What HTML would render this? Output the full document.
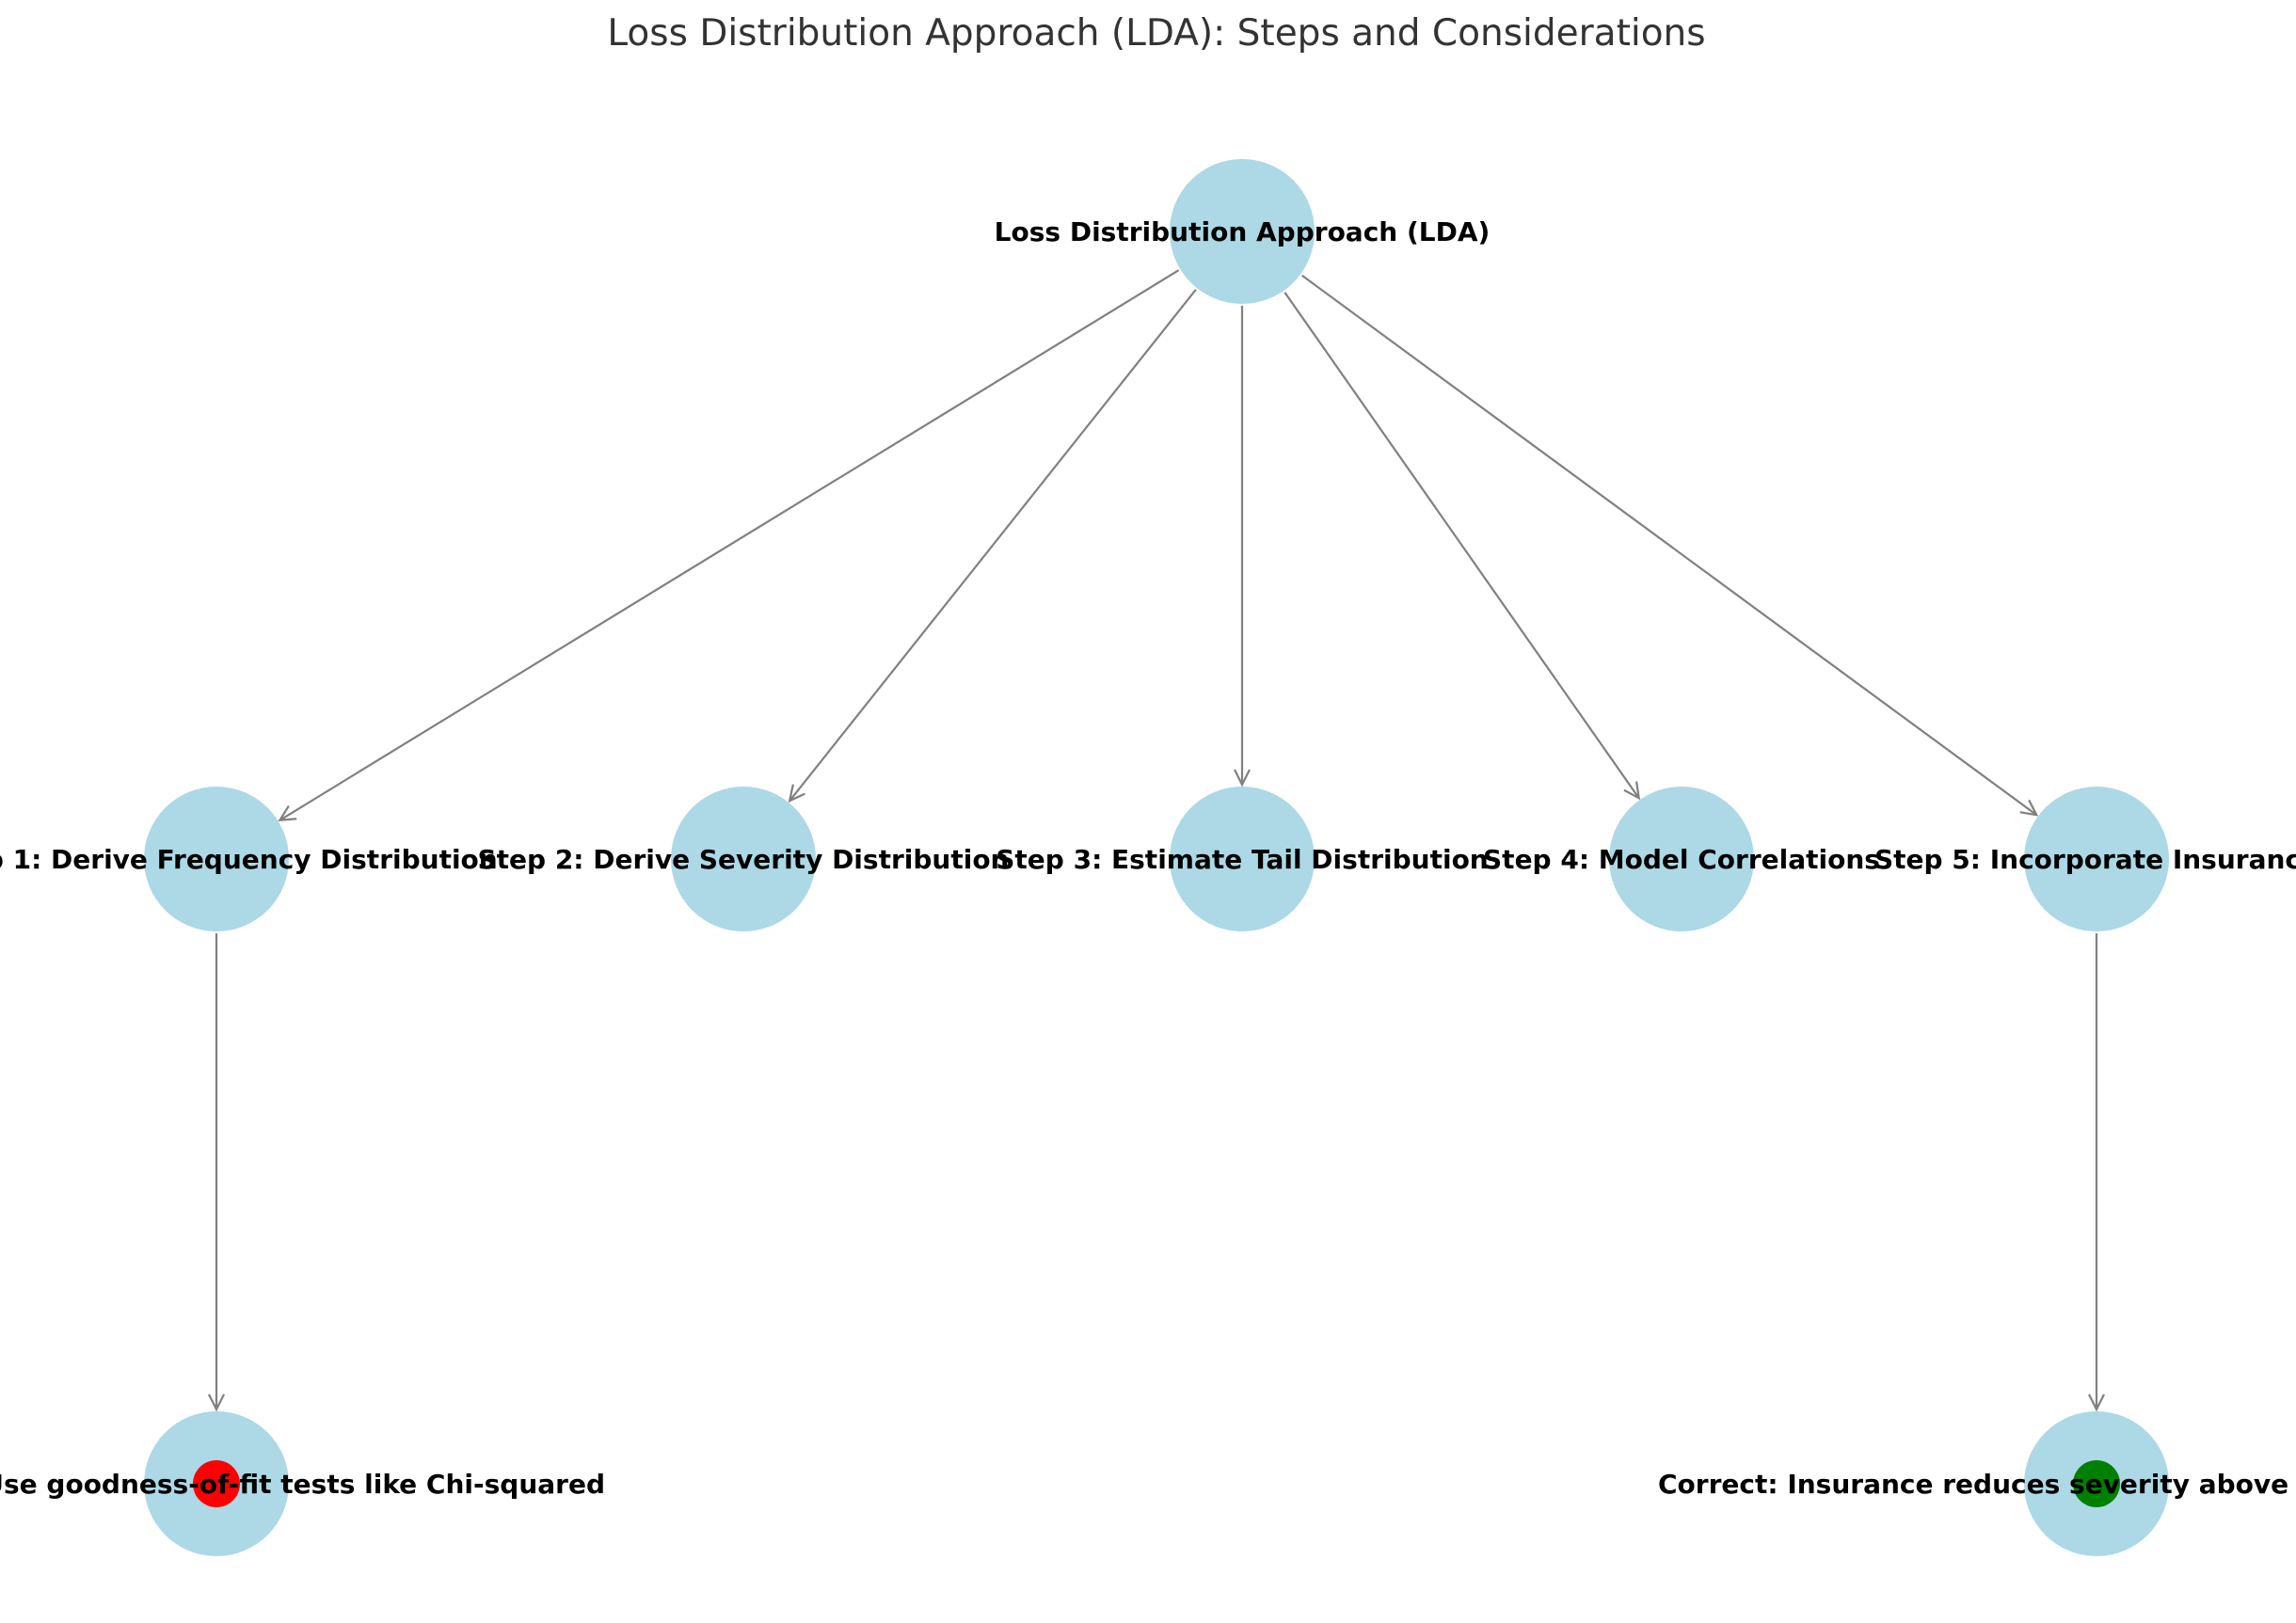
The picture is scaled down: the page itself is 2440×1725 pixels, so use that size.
<!DOCTYPE html>
<html><head><meta charset="utf-8"><style>
html,body{margin:0;padding:0;background:#fff;}
svg{display:block;}
text{font-family:"DejaVu Sans","Liberation Sans",sans-serif;}
.l{font-weight:bold;font-size:28px;fill:#000;}
</style></head><body>
<svg id="s" width="2440" height="1725" viewBox="0 0 2440 1725" xmlns="http://www.w3.org/2000/svg">
<text x="1229" y="48" text-anchor="middle" font-size="39" fill="#333">Loss Distribution Approach (LDA): Steps and Considerations</text>
<g id="edges" stroke="#808080" stroke-width="2.2" fill="none"></g>
<g fill="#add8e6">
<circle cx="1320" cy="246" r="77"/>
<circle cx="230" cy="913" r="77"/>
<circle cx="790" cy="913" r="77"/>
<circle cx="1320" cy="913" r="77"/>
<circle cx="1787" cy="913" r="77"/>
<circle cx="2228" cy="913" r="77"/>
<circle cx="230" cy="1577" r="77"/>
<circle cx="2228" cy="1577" r="77"/>
</g>
<circle cx="230" cy="1577" r="25" fill="#ff0000"/>
<circle cx="2228" cy="1577" r="25" fill="#008000"/>
<text class="l" x="1320" y="256" text-anchor="middle">Loss Distribution Approach (LDA)</text>
<text class="l" x="230" y="923" text-anchor="middle">Step 1: Derive Frequency Distribution</text>
<text class="l" x="790" y="923" text-anchor="middle">Step 2: Derive Severity Distribution</text>
<text class="l" x="1320" y="923" text-anchor="middle">Step 3: Estimate Tail Distribution</text>
<text class="l" x="1787" y="923" text-anchor="middle">Step 4: Model Correlations</text>
<text class="l" x="2228" y="923" text-anchor="middle">Step 5: Incorporate Insurance</text>
<text class="l" x="643" y="1587" text-anchor="end">Incorrect: Use goodness-of-fit tests like Chi-squared</text>
<text class="l" x="1762" y="1587" text-anchor="start">Correct: Insurance reduces severity above deductible</text>
</svg>
<script>
var E=[[1320,246,230,913],[1320,246,790,913],[1320,246,1320,913],[1320,246,1787,913],[1320,246,2228,913],[230,913,230,1577],[2228,913,2228,1577]];
var g=document.getElementById('edges'),r=79,h="";
E.forEach(function(e){var dx=e[2]-e[0],dy=e[3]-e[1],L=Math.hypot(dx,dy),ux=dx/L,uy=dy/L;
var x1=e[0]+ux*r,y1=e[1]+uy*r,x2=e[2]-ux*r,y2=e[3]-uy*r;
var al=16,aw=8,bx=x2-ux*al,by=y2-uy*al;
h+='<line x1="'+x1+'" y1="'+y1+'" x2="'+x2+'" y2="'+y2+'"/>';
h+='<polyline points="'+(bx-uy*aw)+','+(by+ux*aw)+' '+x2+','+y2+' '+(bx+uy*aw)+','+(by-ux*aw)+'"/>';});
g.innerHTML=h;
</script>
</body></html>
